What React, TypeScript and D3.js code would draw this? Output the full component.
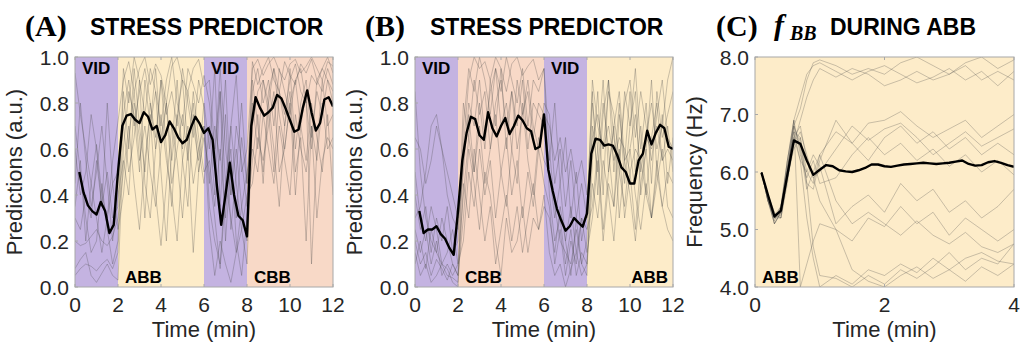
import React from "react"
import * as d3 from "d3"

const W = 1030
const H = 347
const TOP = 57
const BOTTOM = 287

const SEG_COLORS: Record<string, string> = {
  VID: "#c4b3e1",
  ABB: "#fdecc9",
  CBB: "#f8d9c7",
}

// segments (minutes)
const SEGMENTS_A = [
  { label: "VID", from: 0, to: 2 },
  { label: "ABB", from: 2, to: 6 },
  { label: "VID", from: 6, to: 8 },
  { label: "CBB", from: 8, to: 12 },
]
const SEGMENTS_B = [
  { label: "VID", from: 0, to: 2 },
  { label: "CBB", from: 2, to: 6 },
  { label: "VID", from: 6, to: 8 },
  { label: "ABB", from: 8, to: 12 },
]
const SEGMENTS_C = [{ label: "ABB", from: 0, to: 4 }]

const X_TICKS_AB = [0, 2, 4, 6, 8, 10, 12]
const Y_TICKS_AB = [0, 0.2, 0.4, 0.6, 0.8, 1.0]
const X_TICKS_C = [0, 2, 4]
const Y_TICKS_C = [4, 5, 6, 7, 8]

// time grids
const MEAN_T_AB = d3.range(1, 61).map(i => +(i * 0.2).toFixed(1))
const GRAY_T_AB = d3.range(0, 49).map(i => i * 0.25)
const MEAN_T_C = d3.range(1, 41).map(i => +(i * 0.1).toFixed(1))
const GRAY_T_C = [0.1, 0.2, 0.3, 0.4, 0.5, 0.6, 0.7, 0.8, 0.9, 1.0, 1.25, 1.5, 1.75, 2.0, 2.25, 2.5, 2.75, 3.0, 3.25, 3.5, 3.75, 4.0]

// (A) mean stress prediction
const MEAN_A = [
  0.5, 0.41, 0.355, 0.33, 0.315, 0.37, 0.33, 0.235, 0.27, 0.5,
  0.7, 0.745, 0.752, 0.727, 0.713, 0.76, 0.74, 0.685, 0.7, 0.63,
  0.66, 0.72, 0.69, 0.65, 0.625, 0.64, 0.695, 0.74, 0.71, 0.67,
  0.69, 0.64, 0.44, 0.27, 0.4, 0.54, 0.4, 0.31, 0.29, 0.22,
  0.7, 0.825, 0.78, 0.745, 0.76, 0.78, 0.835, 0.82, 0.775, 0.725,
  0.675, 0.685, 0.78, 0.855, 0.76, 0.68, 0.713, 0.815, 0.825, 0.785,
]

// (B) mean stress prediction
const MEAN_B = [
  0.33, 0.235, 0.25, 0.25, 0.264, 0.23, 0.21, 0.17, 0.14, 0.33,
  0.55, 0.67, 0.74, 0.73, 0.66, 0.64, 0.76, 0.69, 0.655, 0.7,
  0.735, 0.665, 0.7, 0.745, 0.725, 0.69, 0.677, 0.6, 0.61, 0.75,
  0.51, 0.42, 0.34, 0.29, 0.245, 0.264, 0.3, 0.28, 0.262, 0.32,
  0.58, 0.645, 0.64, 0.615, 0.62, 0.615, 0.575, 0.52, 0.5, 0.45,
  0.45, 0.55, 0.58, 0.68, 0.62, 0.67, 0.705, 0.69, 0.61, 0.6,
]

// (A) individual subjects
const SUBJ_A = [
  [0.93, 0.75, 0.6, 0.45, 0.62, 0.4, 0.3, 0.55, 0.72,
    0.9, 0.98, 0.85, 0.95, 1.0, 0.88, 0.97, 0.92, 0.8, 0.96, 1.0, 0.9, 0.85, 0.95, 0.99, 0.87,
    0.9, 0.6, 0.85, 0.45, 0.7, 0.92, 0.5, 0.6,
    0.95, 0.99, 0.92, 0.97, 1.0, 0.94, 0.9, 0.97, 0.99, 0.93, 0.96, 1.0, 0.95, 0.9, 0.98, 0.96],
  [0.05, 0.08, 0.1, 0.09, 0.07, 0.1, 0.12, 0.08, 0.15,
    0.75, 0.9, 0.7, 0.85, 0.95, 0.8, 0.6, 0.9, 0.75, 0.85, 0.7, 0.95, 0.8, 0.65, 0.9, 0.78,
    0.35, 0.2, 0.1, 0.45, 0.3, 0.15, 0.25, 0.1,
    0.7, 0.85, 0.9, 0.8, 0.95, 0.85, 0.75, 0.9, 0.97, 0.85, 0.8, 0.92, 0.88, 0.95, 0.9, 0.85],
  [0.45, 0.8, 0.55, 0.35, 0.5, 0.7, 0.45, 0.2, 0.4,
    0.55, 0.4, 0.8, 0.65, 0.3, 0.7, 0.85, 0.5, 0.2, 0.6, 0.9, 0.55, 0.35, 0.75, 0.6, 0.45,
    0.7, 0.4, 0.85, 0.2, 0.55, 0.3, 0.65, 0.45,
    0.8, 0.6, 0.9, 0.75, 0.5, 0.85, 0.7, 0.95, 0.6, 0.8, 0.9, 0.65, 0.85, 0.75, 0.9, 0.8],
  [0.2, 0.18, 0.19, 0.22, 0.25, 0.2, 0.18, 0.22, 0.3,
    0.5, 0.7, 0.45, 0.25, 0.55, 0.75, 0.4, 0.18, 0.45, 0.7, 0.55, 0.3, 0.6, 0.8, 0.5, 0.65,
    0.5, 0.3, 0.08, 0.4, 0.6, 0.2, 0.05, 0.3,
    0.55, 0.75, 0.45, 0.8, 0.6, 0.35, 0.7, 0.85, 0.5, 0.65, 0.2, 0.7, 0.55, 0.8, 0.6, 0.65],
  [0.6, 0.4, 0.5, 0.75, 0.6, 0.35, 0.5, 0.3, 0.35,
    0.85, 0.6, 0.95, 0.7, 0.5, 0.8, 0.65, 0.9, 0.6, 0.35, 0.75, 0.6, 0.85, 0.7, 0.55, 0.8,
    0.6, 0.95, 0.35, 0.75, 0.25, 0.5, 0.8, 0.45,
    0.9, 0.7, 0.5, 0.85, 0.95, 0.75, 0.6, 0.8, 0.9, 0.7, 0.85, 0.1, 0.6, 0.9, 0.7, 0.75],
  [0.3, 0.25, 0.4, 0.3, 0.55, 0.35, 0.8, 0.45, 0.5,
    0.7, 0.5, 0.65, 0.9, 0.45, 0.3, 0.6, 0.75, 0.55, 0.4, 0.2, 0.55, 0.7, 0.45, 0.6, 0.7,
    0.45, 0.7, 0.55, 0.9, 0.4, 0.6, 0.35, 0.5,
    0.6, 0.5, 0.75, 0.6, 0.45, 0.7, 0.55, 0.4, 0.75, 0.6, 0.5, 0.7, 0.3, 0.55, 0.65, 0.6],
  [0.08, 0.12, 0.15, 0.05, 0.02, 0.06, 0.1, 0.05, 0.03,
    0.6, 0.85, 0.75, 0.5, 0.9, 0.7, 0.95, 0.65, 0.8, 0.55, 0.75, 0.9, 0.6, 0.15, 0.5, 0.7,
    0.25, 0.05, 0.2, 0.1, 0.02, 0.15, 0.35, 0.2,
    0.85, 0.95, 0.8, 0.9, 0.7, 0.95, 0.85, 0.75, 0.9, 0.95, 0.8, 0.6, 0.9, 0.85, 0.95, 0.88],
  [0.7, 0.5, 0.3, 0.15, 0.2, 0.45, 0.25, 0.1, 0.2,
    0.95, 0.8, 1.0, 0.9, 0.75, 0.95, 0.85, 0.7, 0.9, 1.0, 0.8, 0.7, 0.95, 0.88, 0.8, 0.92,
    0.8, 0.55, 0.95, 0.6, 0.4, 0.7, 0.55, 0.35,
    0.98, 0.88, 0.95, 1.0, 0.9, 0.85, 0.98, 0.92, 0.88, 0.97, 0.93, 0.99, 0.9, 0.95, 1.0, 0.93],
  [0.35, 0.55, 0.2, 0.45, 0.3, 0.15, 0.3, 0.45, 0.25,
    0.4, 0.65, 0.85, 0.55, 0.7, 0.5, 0.35, 0.6, 0.8, 0.45, 0.6, 0.75, 0.55, 0.85, 0.65, 0.5,
    0.55, 0.35, 0.6, 0.3, 0.7, 0.45, 0.25, 0.4,
    0.45, 0.65, 0.55, 0.7, 0.85, 0.5, 0.6, 0.8, 0.4, 0.7, 0.55, 0.8, 0.65, 0.5, 0.75, 0.4],
]

// (B) individual subjects
const SUBJ_B = [
  [0.85, 0.5, 0.3, 0.2, 0.15, 0.1, 0.05, 0.04, 0.02,
    0.6, 0.9, 1.0, 0.95, 0.98, 0.9, 1.0, 0.95, 0.85, 0.97, 1.0, 0.92, 0.96, 0.99, 0.9, 0.95,
    0.6, 0.35, 0.2, 0.15, 0.1, 0.25, 0.1, 0.2,
    0.8, 0.6, 0.9, 0.5, 0.7, 0.85, 0.55, 0.6, 0.75, 0.5, 0.65, 0.8, 0.6, 0.7, 0.9, 1.0],
  [0.65, 0.6, 0.45, 0.55, 0.7, 0.6, 0.5, 0.4, 0.3,
    0.5, 0.8, 0.7, 0.9, 0.65, 0.85, 0.95, 0.7, 0.8, 0.6, 0.9, 0.75, 0.85, 0.65, 0.8, 0.75,
    0.7, 0.55, 0.65, 0.5, 0.6, 0.45, 0.55, 0.4,
    0.65, 0.75, 0.6, 0.7, 0.55, 0.65, 0.6, 0.5, 0.6, 0.55, 0.65, 0.6, 0.7, 0.55, 0.6, 0.55],
  [0.3, 0.35, 0.5, 0.7, 0.75, 0.6, 0.4, 0.3, 0.25,
    0.55, 0.75, 0.5, 0.8, 0.6, 0.9, 0.7, 0.95, 0.6, 0.85, 0.7, 0.9, 0.6, 0.8, 0.75, 0.7,
    0.55, 0.8, 0.45, 0.65, 0.3, 0.5, 0.2, 0.35,
    0.85, 0.4, 0.75, 0.9, 0.5, 0.8, 0.45, 0.7, 0.85, 0.4, 0.6, 0.9, 0.5, 0.75, 0.45, 0.65],
  [0.2, 0.1, 0.15, 0.05, 0.12, 0.08, 0.03, 0.1, 0.05,
    0.3, 0.6, 0.45, 0.25, 0.5, 0.4, 0.2, 0.05, 0.3, 0.15, 0.2, 0.35, 0.15, 0.3, 0.25, 0.4,
    0.15, 0.05, 0.1, 0.0, 0.08, 0.15, 0.05, 0.1,
    0.45, 0.3, 0.55, 0.4, 0.2, 0.5, 0.35, 0.6, 0.4, 0.25, 0.45, 0.3, 0.55, 0.35, 0.5, 0.45],
  [0.1, 0.2, 0.08, 0.25, 0.15, 0.3, 0.2, 0.1, 0.05,
    0.7, 0.95, 0.85, 1.0, 0.9, 0.75, 0.95, 0.85, 1.0, 0.9, 0.8, 0.95, 0.7, 0.9, 0.85, 0.95,
    0.4, 0.2, 0.3, 0.1, 0.25, 0.05, 0.15, 0.1,
    0.55, 0.85, 0.4, 0.9, 0.65, 0.5, 0.85, 0.7, 0.95, 0.6, 0.8, 0.45, 0.85, 0.65, 0.75, 0.85],
  [0.5, 0.3, 0.2, 0.35, 0.25, 0.1, 0.15, 0.25, 0.1,
    0.4, 0.65, 0.5, 0.7, 0.45, 0.6, 0.75, 0.5, 0.35, 0.6, 0.45, 0.8, 0.55, 0.4, 0.65, 0.55,
    0.5, 0.3, 0.45, 0.2, 0.35, 0.15, 0.3, 0.25,
    0.35, 0.6, 0.25, 0.5, 0.7, 0.3, 0.55, 0.4, 0.2, 0.45, 0.6, 0.3, 0.5, 0.35, 0.25, 0.2],
  [0.15, 0.05, 0.1, 0.02, 0.05, 0.1, 0.08, 0.02, 0.0,
    0.45, 0.3, 0.6, 0.4, 0.2, 0.35, 0.1, 0.25, 0.4, 0.2, 0.35, 0.15, 0.3, 0.45, 0.25, 0.35,
    0.3, 0.15, 0.35, 0.2, 0.05, 0.3, 0.1, 0.05,
    0.7, 0.5, 0.8, 0.6, 0.35, 0.75, 0.55, 0.85, 0.5, 0.7, 0.4, 0.65, 0.8, 0.55, 0.7, 0.5],
  [0.4, 0.25, 0.35, 0.15, 0.3, 0.2, 0.35, 0.15, 0.2,
    0.8, 0.65, 0.9, 0.75, 0.85, 0.6, 0.8, 0.9, 0.7, 0.85, 0.6, 0.75, 0.9, 0.7, 0.6, 0.8,
    0.75, 0.45, 0.6, 0.35, 0.55, 0.3, 0.45, 0.3,
    0.9, 0.7, 0.6, 0.85, 0.75, 0.55, 0.8, 0.9, 0.65, 0.85, 0.7, 0.55, 0.75, 0.9, 0.65, 0.6],
  [0.25, 0.15, 0.25, 0.1, 0.2, 0.05, 0.1, 0.05, 0.1,
    0.2, 0.5, 0.35, 0.6, 0.4, 0.55, 0.3, 0.5, 0.65, 0.4, 0.55, 0.3, 0.5, 0.35, 0.6, 0.45,
    0.35, 0.1, 0.25, 0.05, 0.2, 0.1, 0.3, 0.15,
    0.3, 0.55, 0.2, 0.45, 0.35, 0.6, 0.3, 0.5, 0.25, 0.55, 0.4, 0.3, 0.45, 0.6, 0.35, 0.3],
]

// (C) mean breathing frequency during ABB (Hz)
const MEAN_C = [
  5.99, 5.6, 5.23, 5.33, 5.95, 6.55, 6.49, 6.2, 5.95, 6.04,
  6.12, 6.1, 6.03, 6.01, 6.0, 6.03, 6.07, 6.13, 6.13, 6.1,
  6.09, 6.11, 6.13, 6.14, 6.15, 6.16, 6.15, 6.14, 6.15, 6.16,
  6.18, 6.2, 6.14, 6.11, 6.12, 6.17, 6.19, 6.16, 6.12, 6.09,
]

const SUBJ_C = [
  [6.0, 5.6, 5.2, 5.3, 6.0, 6.8, 7.1, 7.6, 7.9, 7.95, 7.85, 7.7, 7.8, 7.7, 7.9, 8.0, 7.85, 7.7, 7.9, 8.0, 7.8, 7.95],
  [6.0, 5.5, 5.15, 5.4, 6.2, 6.9, 7.3, 7.7, 7.85, 7.9, 7.75, 7.6, 7.75, 7.85, 7.7, 7.55, 7.65, 7.8, 7.6, 7.75, 7.5, 7.75],
  [6.0, 5.6, 5.25, 5.2, 5.9, 6.5, 6.9, 7.3, 7.6, 7.8, 7.65, 7.8, 7.7, 7.5, 7.6, 7.75, 7.6, 7.7, 7.85, 7.6, 7.75, 7.6],
  [6.0, 5.5, 5.1, 5.3, 6.1, 6.7, 6.6, 6.0, 5.8, 6.3, 6.7, 6.5, 6.85, 6.9, 7.05, 6.8, 6.6, 6.75, 6.9, 6.6, 6.8, 7.0],
  [6.0, 5.6, 5.2, 5.2, 5.8, 6.6, 6.8, 6.2, 5.9, 6.0, 6.4, 6.8, 6.55, 6.75, 6.85, 6.6, 6.3, 6.5, 6.7, 6.45, 6.6, 6.75],
  [6.0, 5.5, 5.25, 5.4, 6.2, 6.8, 6.5, 5.8, 5.7, 6.2, 6.9, 6.5, 6.2, 6.6, 6.8, 6.5, 6.7, 6.4, 6.6, 6.3, 6.5, 6.3],
  [6.0, 5.6, 5.1, 5.3, 6.0, 6.9, 6.3, 5.9, 6.2, 5.8, 5.9, 6.3, 6.6, 6.3, 6.5, 6.2, 6.4, 6.1, 6.3, 6.0, 6.2, 5.95],
  [6.0, 5.5, 5.2, 5.4, 6.1, 6.6, 6.2, 6.0, 6.3, 6.1, 5.1, 5.4, 5.6, 5.3, 5.8, 5.5, 5.7, 5.3, 5.5, 5.2, 5.4, 5.7],
  [6.0, 5.6, 5.2, 5.3, 5.9, 6.5, 6.7, 6.3, 5.9, 5.5, 5.0, 4.8, 5.2, 5.05, 5.4, 5.1, 5.3, 4.9, 5.2, 5.0, 4.8, 5.0],
  [6.0, 5.5, 5.2, 5.35, 6.0, 6.8, 6.4, 5.7, 6.0, 6.3, 5.5, 5.1, 5.3, 5.1, 4.9, 5.15, 4.9, 4.75, 4.95, 4.7, 4.6, 4.75],
  [6.0, 5.6, 5.3, 5.2, 6.0, 6.7, 6.2, 5.2, 4.5, 4.0, 4.2, 4.05, 4.3, 4.2, 4.4, 4.25, 4.5, 4.3, 4.5, 4.6, 4.45, 4.4],
  [6.0, 5.5, 5.1, 5.3, 6.2, 6.9, 4.0, 4.4, 4.8, 5.1, 5.0, 4.3, 4.1, 4.0, 4.2, 4.35, 4.15, 4.3, 4.1, 4.35, 4.2, 4.4],
  [6.0, 5.6, 5.2, 5.25, 5.9, 6.4, 6.6, 5.8, 4.7, 4.2, 4.15, 4.0, 4.2, 4.05, 4.3, 4.15, 4.35, 4.6, 4.3, 4.5, 4.4, 4.75],
]

const SANS = "'Liberation Sans', Arial, Helvetica, sans-serif"
const SERIF = "'Liberation Serif', 'Times New Roman', serif"
const TXT = "#262626"

type Seg = { label: string; from: number; to: number }

function Panel(props: {
  left: number
  right: number
  xDomain: [number, number]
  yDomain: [number, number]
  xTicks: number[]
  yTicks: number[]
  yFmt: (v: number) => string
  yLabel: string
  segments: Seg[]
  rightLabelLast?: boolean
  grayT: number[]
  gray: number[][]
  meanT: number[]
  mean: number[]
  id: string
}) {
  const { left, right } = props
  const x = d3.scaleLinear().domain(props.xDomain).range([left, right])
  const y = d3.scaleLinear().domain(props.yDomain).range([BOTTOM, TOP])
  const line = (ts: number[]) =>
    d3
      .line<number>()
      .x((_, i) => x(ts[i]))
      .y(d => y(d))
  const grayLine = line(props.grayT)
  const meanLine = line(props.meanT)
  const clipId = `clip-${props.id}`
  return (
    <g>
      <defs>
        <clipPath id={clipId}>
          <rect x={left} y={TOP} width={right - left} height={BOTTOM - TOP} />
        </clipPath>
      </defs>
      {props.segments.map((s, i) => (
        <rect
          key={i}
          x={x(s.from)}
          y={TOP}
          width={x(s.to) - x(s.from)}
          height={BOTTOM - TOP}
          fill={SEG_COLORS[s.label]}
        />
      ))}
      <g clipPath={`url(#${clipId})`}>
        {props.gray.map((g, i) => (
          <path key={i} d={grayLine(g) || ""} fill="none" stroke="#4a4a4a" strokeOpacity={0.45} strokeWidth={0.65} />
        ))}
        <path d={meanLine(props.mean) || ""} fill="none" stroke="#000" strokeWidth={2.4} strokeLinejoin="round" />
      </g>
      {props.segments.map((s, i) => {
        const isVid = s.label === "VID"
        const rightAlign = props.rightLabelLast && i === props.segments.length - 1
        return (
          <text
            key={`l${i}`}
            x={rightAlign ? x(s.to) - 5 : x(s.from) + 7}
            y={isVid ? TOP + 17 : BOTTOM - 4}
            textAnchor={rightAlign ? "end" : "start"}
            fontFamily={SANS}
            fontWeight="bold"
            fontSize={17}
            fill="#000"
          >
            {s.label}
          </text>
        )
      })}
      <rect x={left} y={TOP} width={right - left} height={BOTTOM - TOP} fill="none" stroke="#a8a8a8" strokeWidth={1} />
      {props.xTicks.map(t => (
        <g key={`x${t}`}>
          <line x1={x(t)} x2={x(t)} y1={BOTTOM} y2={BOTTOM - 3} stroke="#a8a8a8" />
          <line x1={x(t)} x2={x(t)} y1={TOP} y2={TOP + 3} stroke="#a8a8a8" />
          <text x={x(t)} y={312} textAnchor="middle" fontFamily={SANS} fontSize={21} fill={TXT}>
            {t}
          </text>
        </g>
      ))}
      {props.yTicks.map(t => (
        <g key={`y${t}`}>
          <line x1={left} x2={left + 3} y1={y(t)} y2={y(t)} stroke="#a8a8a8" />
          <text x={left - 6} y={y(t) + 7.5} textAnchor="end" fontFamily={SANS} fontSize={21} fill={TXT}>
            {props.yFmt(t)}
          </text>
        </g>
      ))}
      <text x={(left + right) / 2} y={337} textAnchor="middle" fontFamily={SANS} fontSize={22} fill={TXT}>
        Time (min)
      </text>
      <text
        transform={`translate(${left - 53},${(TOP + BOTTOM) / 2}) rotate(-90)`}
        textAnchor="middle"
        fontFamily={SANS}
        fontSize={22}
        fill={TXT}
      >
        {props.yLabel}
      </text>
    </g>
  )
}

export default function App() {
  const f1 = d3.format(".1f")
  return (
    <svg width={W} height={H} style={{ position: "absolute", left: 0, top: 0, background: "#fff" }}>
      <rect width={W} height={H} fill="#fff" />
      {/* titles */}
      <text x={25} y={36} fontFamily={SERIF} fontWeight="bold" fontSize={30} fill="#000">(A)</text>
      <text x={90} y={35} fontFamily={SANS} fontWeight="bold" fontSize={23} fill="#000">STRESS PREDICTOR</text>
      <text x={365} y={36} fontFamily={SERIF} fontWeight="bold" fontSize={30} fill="#000">(B)</text>
      <text x={430} y={35} fontFamily={SANS} fontWeight="bold" fontSize={23} fill="#000">STRESS PREDICTOR</text>
      <text x={716} y={36} fontFamily={SERIF} fontWeight="bold" fontSize={30} fill="#000">(C)</text>
      <text x={774} y={35} fontFamily={SERIF} fontWeight="bold" fontStyle="italic" fontSize={30} fill="#000">f</text>
      <text x={790} y={40} fontFamily={SERIF} fontWeight="bold" fontStyle="italic" fontSize={20} fill="#000">BB</text>
      <text x={830} y={35} fontFamily={SANS} fontWeight="bold" fontSize={23} fill="#000">DURING ABB</text>

      <Panel
        id="a"
        left={75}
        right={333}
        xDomain={[0, 12]}
        yDomain={[0, 1]}
        xTicks={X_TICKS_AB}
        yTicks={Y_TICKS_AB}
        yFmt={f1}
        yLabel="Predictions (a.u.)"
        segments={SEGMENTS_A}
        grayT={GRAY_T_AB}
        gray={SUBJ_A}
        meanT={MEAN_T_AB}
        mean={MEAN_A}
      />
      <Panel
        id="b"
        left={415}
        right={673}
        xDomain={[0, 12]}
        yDomain={[0, 1]}
        xTicks={X_TICKS_AB}
        yTicks={Y_TICKS_AB}
        yFmt={f1}
        yLabel="Predictions (a.u.)"
        segments={SEGMENTS_B}
        rightLabelLast
        grayT={GRAY_T_AB}
        gray={SUBJ_B}
        meanT={MEAN_T_AB}
        mean={MEAN_B}
      />
      <Panel
        id="c"
        left={755}
        right={1014}
        xDomain={[0, 4]}
        yDomain={[4, 8]}
        xTicks={X_TICKS_C}
        yTicks={Y_TICKS_C}
        yFmt={f1}
        yLabel="Frequency (Hz)"
        segments={SEGMENTS_C}
        grayT={GRAY_T_C}
        gray={SUBJ_C}
        meanT={MEAN_T_C}
        mean={MEAN_C}
      />
    </svg>
  )
}
